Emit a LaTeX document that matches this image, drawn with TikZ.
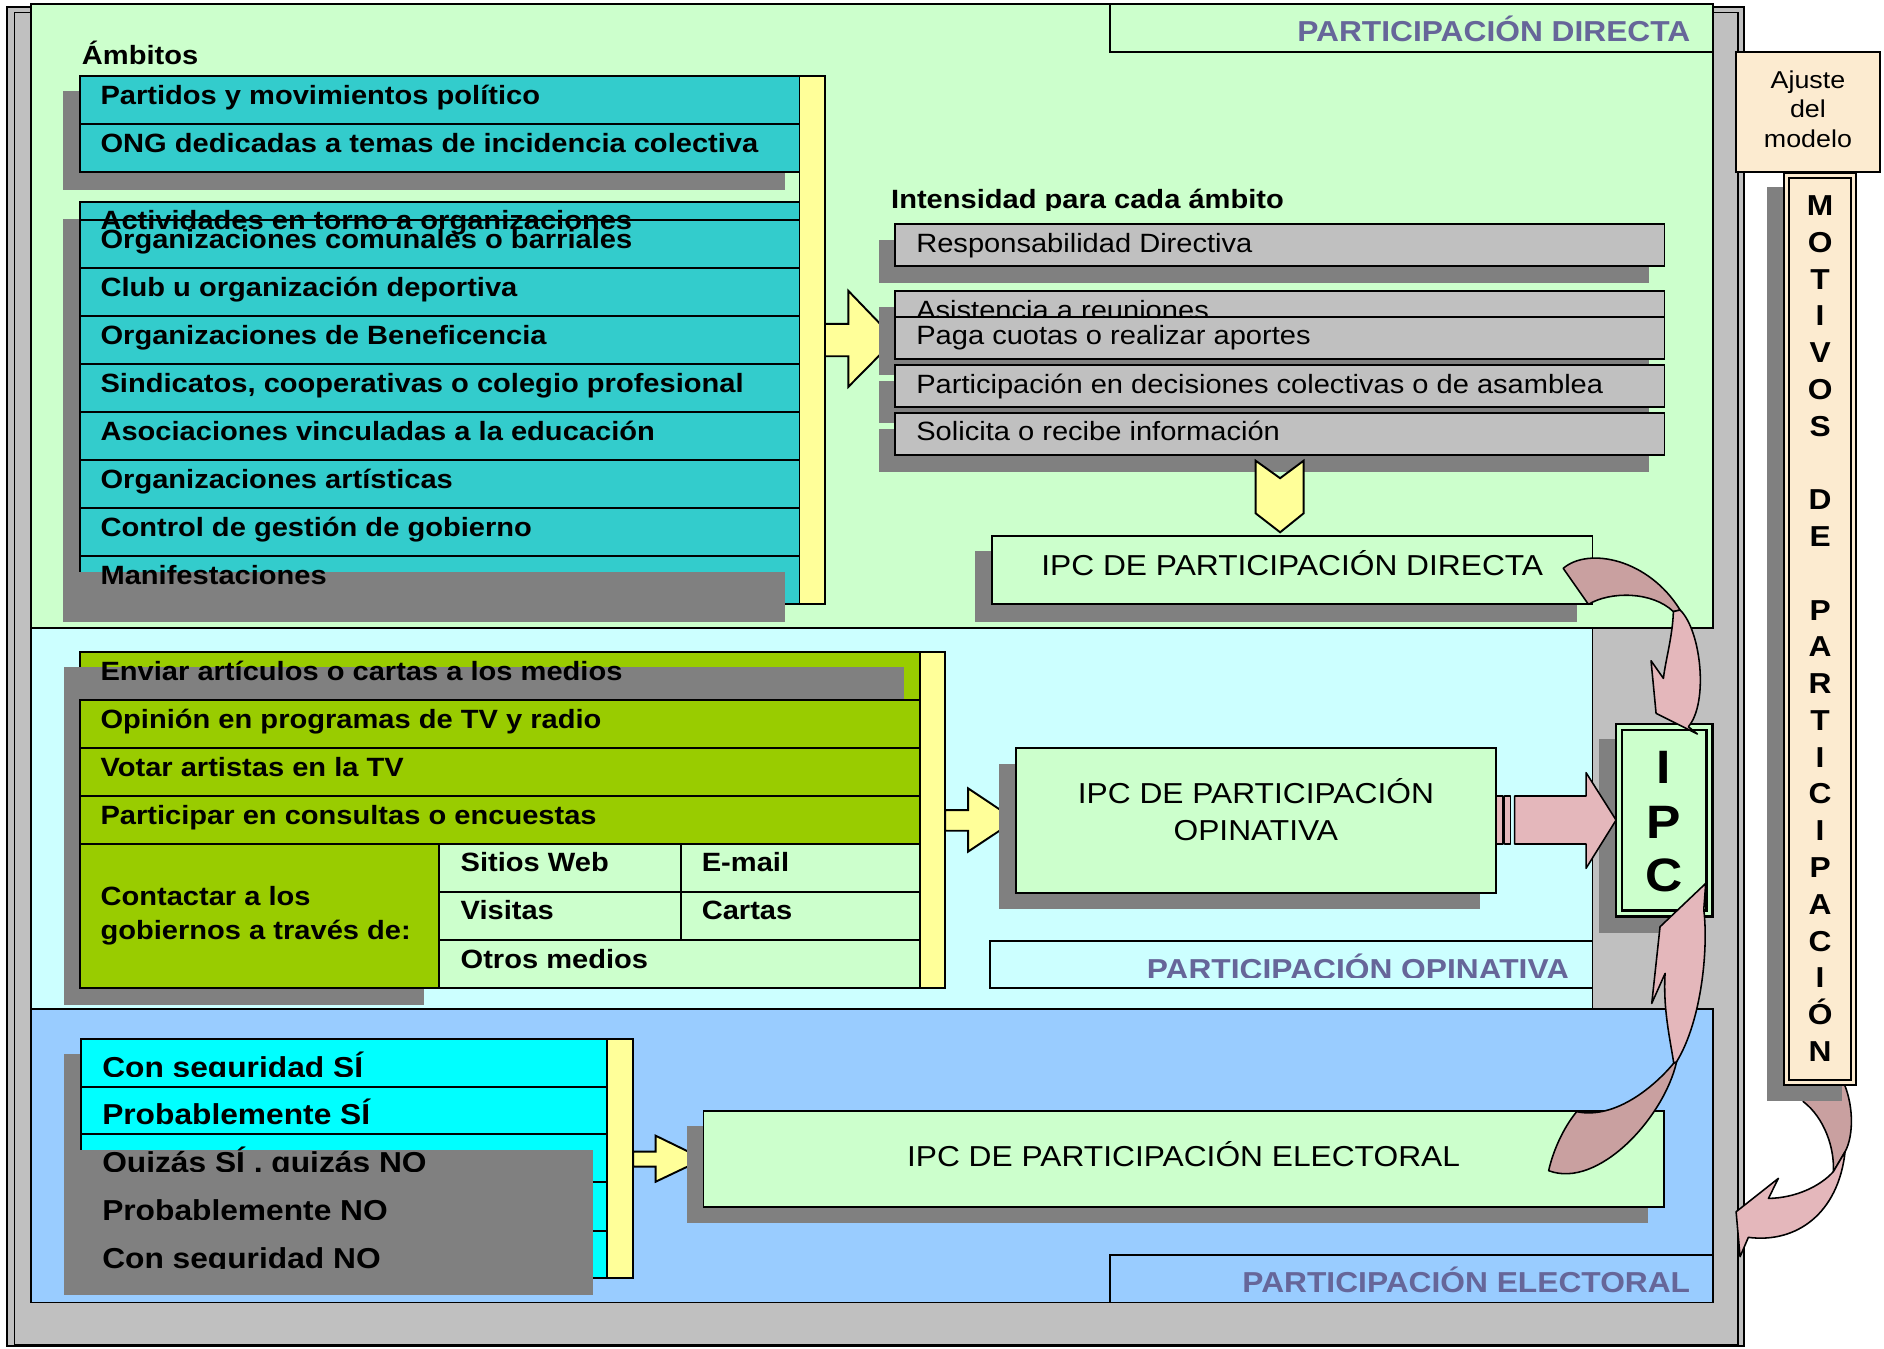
\documentclass[tikz,border=0pt]{standalone}
\usepackage{fontspec}
\setmainfont[FakeStretch=1.1]{Liberation Sans}
\definecolor{pgreen}{HTML}{CCFFCC}
\definecolor{pcyan}{HTML}{CCFFFF}
\definecolor{pblue}{HTML}{99CCFF}
\definecolor{fgray}{HTML}{C0C0C0}
\definecolor{sgray}{HTML}{808080}
\definecolor{teal1}{HTML}{33CCCC}
\definecolor{lime1}{HTML}{99CC00}
\definecolor{aqua1}{HTML}{00FFFF}
\definecolor{yel1}{HTML}{FFFF99}
\definecolor{lblc}{HTML}{666699}
\definecolor{parch}{HTML}{FCEBD0}
\definecolor{pinkL}{HTML}{E4B7BB}
\definecolor{pinkD}{HTML}{C9A0A0}
\begin{document}
\begin{tikzpicture}[x=1pt,y=-1pt,
  box/.style={draw=black,line width=1.6pt},
  tb/.style={anchor=base west,inner sep=0pt,font=\bfseries\fontsize{22}{26}\selectfont},
  tr/.style={anchor=base west,inner sep=0pt,font=\fontsize{22}{26}\selectfont},
  te/.style={anchor=base west,inner sep=0pt,font=\bfseries\fontsize{24}{28}\selectfont},
  tipc/.style={anchor=base,inner sep=0pt,font=\fontsize{24}{28}\selectfont},
  tlbl/.style={anchor=base east,inner sep=0pt,text=lblc,font=\bfseries\fontsize{24}{28}\selectfont},
  tmot/.style={anchor=base,inner sep=0pt,font=\bfseries\fontsize{24}{28}\selectfont},
  tbig/.style={anchor=base,inner sep=0pt,font=\bfseries\fontsize{39}{44}\selectfont},
  taj/.style={anchor=base,inner sep=0pt,font=\fontsize{20.3}{24}\selectfont},
  parrow/.style={draw=black,line width=1.3pt,line join=round},
]
\useasboundingbox (0,0) rectangle (1568,1122);
% outer frame
\draw[fill=fgray,line width=1.8pt] (6,6) rectangle (1451.5,1120.5);
\draw[line width=1.4pt] (12,10.5) rectangle (1446.5,1119);
% panels
\draw[box,fill=pgreen] (26,3.3) rectangle (1425.4,523);
\draw[box,fill=pcyan] (26,523) rectangle (1325.4,840);
\draw[box,fill=pblue] (26,840) rectangle (1425.4,1084);
% section labels
\draw[box,fill=pgreen] (924,3.3) rectangle (1425.4,43);
\node[tlbl] (lbldir) at (1407,34.9) {PARTICIPACIÓN DIRECTA};
\draw[box,fill=pcyan] (823.9,782.9) rectangle (1325.4,822.6);
\begin{scope}
\clip (823.9,782.9) rectangle (1325.4,813.4);
\node[tlbl] (lblop) at (1306.2,814.8) {PARTICIPACIÓN OPINATIVA};
\end{scope}
\draw[box,fill=pblue] (923.5,1044.5) rectangle (1425.4,1084);
\node[tlbl] (lblel) at (1406.8,1075.6) {PARTICIPACIÓN ELECTORAL};

% ===== DIRECTA =====
\node[tb] (amb) at (68,53.3) {Ámbitos};
\fill[sgray] (52.3,75.5) rectangle (653,158);
\draw[box,fill=teal1] (66.3,63.3) rectangle (665.4,143.4);
\draw[box] (66.3,103.2) -- (665.4,103.2);
\node[tb] (a1) at (83.5,87.1) {Partidos y movimientos político};
\node[tb] (a2) at (83.5,127) {ONG dedicadas a temas de incidencia colectiva};
\fill[sgray] (52.3,182) rectangle (653,517.4);
\draw[box,fill=teal1] (66.3,168.4) rectangle (665.4,502.7);
\foreach \yy in {183,223.3,263,303,343,383,423,462.7} \draw[box] (66.3,\yy) -- (665.4,\yy);
\fill[sgray] (52.3,476) rectangle (653,517.4);
\node[tb] (b0) at (83.5,191.4) {Actividades en torno a organizaciones};
\node[tb] (b1) at (83.5,206.9) {Organizaciones comunales o barriales};
\node[tb] (b2) at (83.5,247.1) {Club u organización deportiva};
\node[tb] (b3) at (83.5,286.8) {Organizaciones de Beneficencia};
\node[tb] (b4) at (83.5,326.8) {Sindicatos, cooperativas o colegio profesional};
\node[tb] (b5) at (83.5,366.8) {Asociaciones vinculadas a la educación};
\node[tb] (b6) at (83.5,406.8) {Organizaciones artísticas};
\node[tb] (b7) at (83.5,446.6) {Control de gestión de gobierno};
\node[tb] (b8) at (83.5,486.7) {Manifestaciones};
\draw[box,fill=yel1] (665.4,63.3) rectangle (686.6,502.7);
\draw[box,fill=yel1] (686.6,269.5) -- (706,269.5) -- (706,242) -- (745,282.5) -- (706,322) -- (706,296.5) -- (686.6,296.5) -- cycle;

\begin{scope}
\clip (735,150) rectangle (1200,175.5);
\node[tb] (inth) at (741.5,173.4) {Intensidad para cada ámbito};
\end{scope}
\fill[sgray] (731.6,199.5) rectangle (1372.5,235.3);
\draw[box,fill=fgray] (744.8,186.4) rectangle (1385.3,221.4);
\node[tr] (i1) at (762.4,209.9) {Responsabilidad Directiva};
\fill[sgray] (731.6,255.5) rectangle (1372.5,291);
\draw[box,fill=fgray] (744.8,242) rectangle (1385.3,277.5);
\node[tr] (i2) at (762.4,265.5) {Asistencia a reuniones};
\fill[sgray] (731.6,277) rectangle (1372.5,312.5);
\draw[box,fill=fgray] (744.8,263.6) rectangle (1385.3,299);
\node[tr] (i3) at (762.4,287.1) {Paga cuotas o realizar aportes};
\fill[sgray] (731.6,317.3) rectangle (1372.5,352);
\draw[box,fill=fgray] (744.8,303.8) rectangle (1385.3,338.5);
\node[tr] (i4) at (762.4,327.3) {Participación en decisiones colectivas o de asamblea};
\fill[sgray] (731.6,357) rectangle (1372.5,392.6);
\draw[box,fill=fgray] (744.8,343.4) rectangle (1385.3,378.7);
\node[tr] (i5) at (762.4,366.9) {Solicita o recibe información};
\draw[box,fill=yel1] (1045,383.4) -- (1065.4,398) -- (1085,383.4) -- (1085,427.2) -- (1065.4,443) -- (1045,427.2) -- cycle;
\fill[sgray] (811.7,458.3) rectangle (1312.3,517.4);
\draw[box,fill=pgreen] (825.5,445.8) rectangle (1325.4,502.7);
\node[tipc] (ipcd) at (1075.5,478.6) {IPC DE PARTICIPACIÓN DIRECTA};

% ===== OPINATIVA =====
\fill[sgray] (53.1,555.4) rectangle (353,836.5);
\draw[box,fill=lime1] (66.4,542.9) rectangle (765.4,822.6);
\foreach \yy in {582.6,622.3,662.2,702.5} \draw[box] (66.4,\yy) -- (765.4,\yy);
\draw[box,fill=pgreen] (365.2,702.5) rectangle (765.4,822.6);
\draw[box] (566.4,702.5) -- (566.4,782.4);
\draw[box] (365.2,742.1) -- (765.4,742.1);
\draw[box] (365.2,782.4) -- (765.4,782.4);
\fill[sgray] (53.1,555.4) rectangle (752.7,581.8);
\node[tb] (o1) at (83.5,566.5) {Enviar artículos o cartas a los medios};
\node[tb] (o2) at (83.5,606.2) {Opinión en programas de TV y radio};
\node[tb] (o3) at (83.5,645.9) {Votar artistas en la TV};
\node[tb] (o4) at (83.5,685.8) {Participar en consultas o encuestas};
\node[tb] (o5) at (83.5,753.2) {Contactar a los};
\node[tb] (o6) at (83.5,781.8) {gobiernos a través de:};
\node[tb] (c1) at (383.2,725.5) {Sitios Web};
\node[tb] (c2) at (583.9,725.5) {E-mail};
\node[tb] (c3) at (383.2,765.5) {Visitas};
\node[tb] (c4) at (583.9,765.5) {Cartas};
\node[tb] (c5) at (383.2,805.8) {Otros medios};
\draw[box,fill=yel1] (765.4,542.9) rectangle (786.7,822.6);
\draw[box,fill=yel1] (786.7,674.2) -- (805.7,674.2) -- (805.7,656.1) -- (845.2,682.5) -- (805.7,708.8) -- (805.7,691.4) -- (786.7,691.4) -- cycle;
\fill[sgray] (831.3,635.9) rectangle (1231.8,756.8);
\draw[box,fill=pgreen] (845.2,622.8) rectangle (1245.1,743);
\node[tipc] (ipco1) at (1045.2,668.6) {IPC DE PARTICIPACIÓN};
\node[tipc] (ipco2) at (1045.2,699.7) {OPINATIVA};

% ===== ELECTORAL =====
\fill[sgray] (53.1,877.2) rectangle (493.6,1077.8);
\draw[box,fill=aqua1] (67.4,864.8) rectangle (505.4,1064);
\foreach \yy in {904.4,944.1,984,1024.3} \draw[box] (67.4,\yy) -- (505.4,\yy);
\fill[sgray] (53.1,957.1) rectangle (493.6,1077.8);
\foreach \t/\yy/\nm in {Con seguridad SÍ/864.8/e1,Probablemente SÍ/904.4/e2,{Quizás SÍ , quizás NO}/944.1/e3,Probablemente NO/984/e4,Con seguridad NO/1024.3/e5}{
  \begin{scope}
  \clip (60,\yy) rectangle (500,\yy+31.3);
  \node[te] (\nm) at (84.9,\yy+31.8) {\t};
  \end{scope}
}
\draw[box,fill=yel1] (505.4,864.8) rectangle (527,1064);
\draw[box,fill=yel1] (527,958.5) -- (545.7,958.5) -- (545.7,945.2) -- (585.5,964.6) -- (545.7,983.5) -- (545.7,971) -- (527,971) -- cycle;
\fill[sgray] (571.7,937.2) rectangle (1371.6,1018.2);
\draw[box,fill=pgreen] (585.5,924.4) rectangle (1384.5,1004.3);
\node[tipc] (ipce) at (985,971) {IPC DE PARTICIPACIÓN ELECTORAL};

% ===== IPC =====
\fill[sgray] (1331,615.3) rectangle (1411,776.8);
\draw[line width=2.2pt,fill=pgreen] (1345,602.6) rectangle (1425.4,763);
\draw[line width=2.2pt] (1349.9,607.6) rectangle (1420.4,758);
\node[tbig] (ipc1) at (1385,652) {I};
\node[tbig] (ipc2) at (1385,697.5) {P};
\node[tbig] (ipc3) at (1385,742) {C};
% straight pink arrow
\draw[parrow,fill=pinkL] (1245.1,662.5) rectangle (1250.7,702.4);
\draw[parrow,fill=pinkL] (1252.2,662.5) rectangle (1257.2,702.4);
\draw[parrow,fill=pinkL] (1260.6,662.5) -- (1320,662.5) -- (1320,643) -- (1345,682.5) -- (1320,722.7) -- (1320,702.4) -- (1260.6,702.4) -- cycle;
% top curved arrow
\draw[parrow,fill=pinkD] (1301,473) .. controls (1322,455) and (1372,465) .. (1398.3,507.7) -- (1392.7,509) .. controls (1375,492) and (1340,492) .. (1322,503) -- cycle;
\draw[parrow,fill=pinkL] (1398.3,507.7) .. controls (1416,525) and (1422,585) .. (1405.2,604.8) -- (1412.7,610.9) -- (1378.3,593.7) -- (1374.1,549.9) -- (1384.4,564.6) .. controls (1386,550) and (1392,530) .. (1392.7,509) -- cycle;
% bottom curved arrow to IPC
\draw[parrow,fill=pinkD] (1288.9,974.3) .. controls (1330,990) and (1385,930) .. (1395.4,883.6) -- (1393,884.8) .. controls (1378,903) and (1345,932) .. (1312.2,925.2) .. controls (1300,940) and (1292,960) .. (1288.9,974.3) -- cycle;
\draw[parrow,fill=pinkL] (1395.4,883.6) .. controls (1416,850) and (1422,790) .. (1418,757) -- (1419.6,735.2) -- (1381.6,771.3) -- (1374.7,835.1) -- (1385.8,810.1) .. controls (1384,840) and (1390,865) .. (1393,884.8) -- cycle;

% ===== right column =====
\draw[line width=1.5pt,fill=parch] (1444.6,43.5) rectangle (1564.7,142.9);
\node[taj] (aj1) at (1504.7,73.5) {Ajuste};
\node[taj] (aj2) at (1504.7,97.6) {del};
\node[taj] (aj3) at (1504.7,122.6) {modelo};
\draw[parrow,fill=pinkD] (1498,905) -- (1533,898) .. controls (1543,918) and (1543,945) .. (1535.6,958.5) -- (1525.8,975.2) .. controls (1527,955) and (1518,930) .. (1500.9,916.9) -- cycle;
\fill[sgray] (1470.4,155.4) rectangle (1532.8,916.4);
\draw[line width=1.8pt,fill=parch] (1485,144.3) rectangle (1544.7,903);
\draw[line width=1.8pt] (1489.2,147.9) rectangle (1540.3,898.9);
\foreach \l [count=\i from 0] in {M,O,T,I,V,O,S,{},D,E,{},P,A,R,T,I,C,I,P,A,C,I,Ó,N}
  \node[tmot] (mot\i) at (1514.8,{179.5+30.6*\i}) {\l};
\draw[parrow,fill=pinkL] (1525.8,975.2) .. controls (1515,987) and (1495,997) .. (1471.8,997.4) -- (1480.1,980.7) -- (1444.9,1008.5) -- (1448.2,1045.9) -- (1455.1,1029.8) .. controls (1495,1035) and (1530,1010) .. (1535.6,958.5) -- cycle;
\end{tikzpicture}
\end{document}
